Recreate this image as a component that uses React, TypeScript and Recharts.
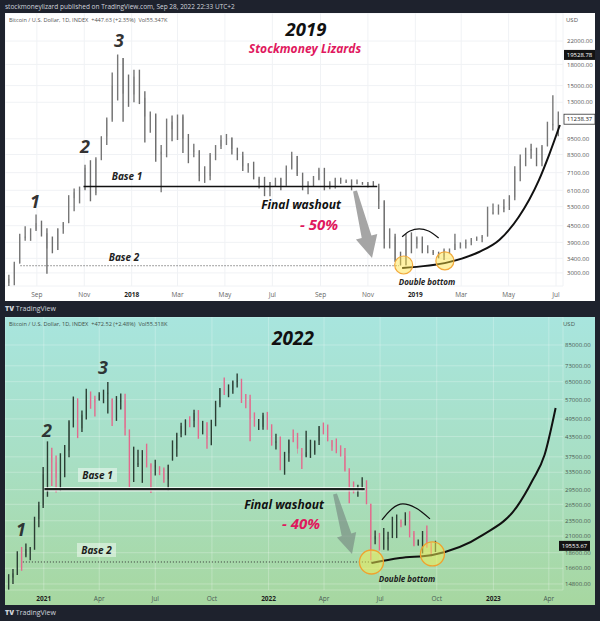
import React from "react";
import { ComposedChart, Bar, Line, XAxis, YAxis, CartesianGrid, ReferenceLine, ReferenceDot } from "recharts";

// ---------- data: 2017-2019 panel (weekly candles) ----------
const topStart = "2017-07-24";
const topFirstOpen = 2750;
const topLow = [
  2650, 2700, 3250, 3950, 3950, 4300, 4100, 2980, 3550, 3650, 4200, 4600, 5100, 5450, 6100, 5550, 5850, 7900, 9000, 11000,
  13200, 11000, 12500, 13000, 12800, 9200, 10000, 7800, 6000, 8100, 9300, 9400, 8400, 7700, 8100, 6600, 6500, 6650, 7900, 8700,
  9000, 8300, 7900, 7200, 7100, 6700, 6200, 5800, 5800, 6300, 6100, 6350, 7300, 6900, 6100, 5900, 6300, 6650, 6100, 6150,
  6200, 6450, 6500, 6100, 6450, 6400, 6250, 6300, 5200, 3700, 3700, 3300, 3200, 3200, 3550, 3700, 3550, 3550, 3500, 3400,
  3350, 3550, 3650, 3700, 3700, 3800, 3950, 3900, 4100, 4950, 4950, 5050, 5150, 5600, 6600, 7500, 8000, 7500, 7500, 8900,
  10200, 9700,
];
const topHigh = [
  2950, 3300, 4200, 4480, 4400, 4950, 4700, 4400, 4100, 4400, 4650, 5850, 6200, 6300, 7600, 7900, 8100, 9700, 11400, 16800,
  19600, 19000, 16500, 17200, 17200, 14300, 12000, 11800, 9000, 11300, 11600, 11700, 11700, 9900, 9100, 8600, 7500, 8400, 9000, 9800,
  9900, 9600, 8800, 8500, 7700, 7800, 6850, 6850, 6550, 6800, 6800, 7550, 8500, 8200, 7100, 6600, 6900, 7400, 7400, 6600,
  6800, 6800, 6700, 6700, 6700, 6550, 6550, 6600, 6450, 5600, 4400, 4200, 3600, 4200, 4250, 4100, 4100, 3800, 3650, 3600,
  3700, 3700, 4200, 3900, 4000, 4050, 4100, 4150, 5300, 5450, 5400, 5650, 5850, 7500, 8300, 8800, 9100, 8800, 9000, 11000,
  13800, 12000,
];
const topClose = [
  2850, 3230, 4080, 4100, 4350, 4600, 4220, 3700, 3650, 4380, 4600, 5700, 6000, 6150, 7400, 5950, 8000, 9700, 11200, 15000,
  19100, 14000, 13900, 16200, 13500, 11500, 11700, 8300, 8500, 11000, 10300, 11500, 9500, 8500, 8600, 6900, 6900, 8300, 8900, 9400,
  9600, 8700, 8200, 7500, 7700, 6750, 6500, 6150, 6550, 6750, 6350, 7400, 8200, 7000, 6300, 6400, 6700, 7300, 6250, 6500,
  6700, 6600, 6600, 6300, 6500, 6450, 6400, 6350, 5550, 4000, 4100, 3300, 3200, 4000, 3850, 4050, 3600, 3600, 3550, 3450,
  3650, 3650, 3850, 3850, 3900, 4000, 4050, 4100, 5050, 5050, 5300, 5200, 5750, 7250, 8000, 8700, 8600, 7900, 8900, 10700,
  10800, 11300,
];
const topXTicks = ["2017-09-01", "2017-11-01", "2018-01-01", "2018-03-01", "2018-05-01", "2018-07-01", "2018-09-01", "2018-11-01", "2019-01-01", "2019-03-01", "2019-05-01", "2019-07-01"];
const topXLabels = ["Sep", "Nov", "2018", "Mar", "May", "Jul", "Sep", "Nov", "2019", "Mar", "May", "Jul"];
const topYTicks = [3000, 3400, 3900, 4500, 5300, 6100, 7100, 8300, 9500, 13000, 15000, 18000, 22000];
const topCurveDates = ["2018-12-15", "2019-02-13", "2019-03-24", "2019-04-19", "2019-05-14", "2019-06-09", "2019-06-22", "2019-07-06"];
const topCurvePrices = [3130, 3290, 3590, 3980, 4850, 6660, 8260, 10690];
const topHumpDates = ["2018-12-15", "2018-12-25", "2019-01-06", "2019-01-18", "2019-01-31"];
const topHumpPrices = [4090, 4300, 4380, 4300, 4050];

// ---------- data: 2020-2022 panel ----------
const botStart = "2020-11-02";
const botFirstOpen = 14300;
const botLow = [
  14200, 14800, 15800, 16300, 18000, 17600, 19000, 22400, 25800, 28000, 30300, 28900, 29200, 32300, 37400, 46500, 43000, 45000, 49300, 53300,
  50400, 56600, 55500, 51500, 47000, 48800, 53000, 43800, 30000, 31200, 34800, 31000, 34700, 28800, 32700, 32800, 31000, 29300, 36500, 37500,
  43300, 43900, 46600, 46600, 42800, 44200, 39800, 40800, 46900, 53900, 59000, 58000, 59500, 62300, 55600, 53500, 42000, 46800, 45600, 45700,
  45700, 40700, 39600, 34000, 32900, 36200, 41700, 39800, 34300, 37400, 37200, 38100, 40900, 44200, 42000, 39200, 38500, 37600, 33700, 26700,
  28700, 28000, 29300, 26500, 17600, 19800, 18900, 19000, 18900, 20700, 20700, 22400, 22700, 20800, 19500, 19600, 18500, 19300, 18100, 18700,
];
const botHigh = [
  15900, 16500, 18800, 19400, 19900, 19400, 24200, 27000, 34800, 42000, 40100, 37900, 38500, 40900, 49000, 58300, 57500, 52600, 61700, 60500,
  58600, 60100, 61300, 64800, 57500, 58500, 59600, 59500, 45800, 40400, 39500, 39400, 41300, 35800, 36700, 35000, 34700, 35400, 42300, 44700,
  48100, 49300, 50500, 52900, 52800, 48800, 48300, 49200, 56500, 62000, 67000, 63700, 65500, 69000, 66400, 59400, 59100, 51900, 49500, 51800,
  52100, 47600, 44400, 43500, 38900, 42600, 45800, 44700, 40000, 45400, 42500, 42300, 47000, 48200, 47500, 42400, 42900, 40800, 40000, 34500,
  31300, 30600, 32300, 31600, 26600, 21900, 21500, 22300, 21700, 24200, 24600, 23700, 25000, 25200, 21800, 20500, 21800, 22700, 20000, 20300,
];
const botClose = [
  15500, 16000, 18400, 18200, 19100, 19200, 23800, 26300, 33000, 38200, 36000, 32200, 34300, 39300, 48600, 57500, 46200, 51000, 59000, 57400,
  55800, 59000, 60000, 60000, 49000, 56600, 56700, 46400, 34700, 35700, 35800, 39100, 35600, 34700, 35300, 34300, 31800, 35400, 39800, 44400,
  47000, 49300, 48800, 51700, 45000, 48300, 42700, 48200, 54900, 61500, 61300, 61300, 65000, 65500, 59700, 57300, 49400, 46700, 46700, 50800,
  46200, 41800, 42000, 36300, 38500, 42400, 42200, 38400, 37700, 38800, 38800, 42200, 46800, 46400, 42200, 40400, 39500, 37700, 34000, 31300,
  29400, 29400, 29900, 26600, 20500, 21000, 19300, 20800, 20800, 22600, 23300, 23200, 24400, 21500, 19600, 19800, 21800, 19400, 18800, 19550,
];
const botXTicks = ["2021-01-01", "2021-04-01", "2021-07-01", "2021-10-01", "2022-01-01", "2022-04-01", "2022-07-01", "2022-10-01", "2023-01-01", "2023-04-01"];
const botXLabels = ["2021", "Apr", "Jul", "Oct", "2022", "Apr", "Jul", "Oct", "2023", "Apr"];
const botYTicks = [14800, 16600, 18600, 21000, 23500, 26500, 29500, 33500, 37500, 43500, 49500, 57000, 65000, 73000, 85000];
const botCurveDates = ["2022-06-17", "2022-08-02", "2022-09-24", "2022-12-15", "2023-02-08", "2023-03-06", "2023-03-25", "2023-04-12"];
const botCurvePrices = [17260, 17900, 18300, 21180, 26000, 31700, 38000, 53600];
const botHumpDates = ["2022-07-04", "2022-07-20", "2022-08-07", "2022-08-28", "2022-09-20"];
const botHumpPrices = [23640, 25620, 26570, 25810, 23820];

// ---------- helpers ----------
const day = (s: string) => Date.UTC(+s.slice(0, 4), +s.slice(5, 7) - 1, +s.slice(8, 10)) / 86400000;

const weeks = (start: string, firstOpen: number, lows: number[], highs: number[], closes: number[]) =>
  lows.map((l, i) => {
    const prev = i ? closes[i - 1] : firstOpen;
    return {
      t: day(start) + 7 * i + 3,
      low: l,
      high: highs[i],
      close: closes[i],
      open: Math.min(highs[i], Math.max(l, prev)),
      range: [l, highs[i]],
    };
  });

const pts = (dates: string[], prices: number[]) => dates.map((d, i) => ({ t: day(d), p: prices[i] }));

const topRows = weeks(topStart, topFirstOpen, topLow, topHigh, topClose);
const botRows = weeks(botStart, botFirstOpen, botLow, botHigh, botClose);

const Candle = (p: any) => {
  const { x, y, width, height, payload, up, down } = p;
  if (!payload || height == null) return null;
  const top = Math.min(y, y + height);
  const h = Math.abs(height);
  const lh = Math.log(payload.high);
  const ll = Math.log(payload.low);
  const py = (v: number) => top + (h * (lh - Math.log(v))) / (lh - ll || 1);
  const o = py(payload.open);
  const c = py(payload.close);
  const col = payload.close >= payload.open ? up : down;
  const cx = x + width / 2;
  return (
    <g>
      <line x1={cx} x2={cx} y1={top} y2={top + h} stroke={col} strokeWidth={1.4} />
      <rect x={x} y={Math.min(o, c)} width={width} height={Math.max(1.5, Math.abs(o - c))} fill={col} />
    </g>
  );
};

const XTick = (p: any) => {
  const { x, payload, ticks, labels, color } = p;
  const lab = labels[ticks.indexOf(payload.value)] ?? "";
  const year = /^\d{4}$/.test(lab);
  return (
    <text x={x} y={284} textAnchor="middle" fontSize={6.5} fontFamily="Open Sans" fontWeight={year ? 700 : 400} fill={year ? "#1e1e1e" : color}>
      {lab}
    </text>
  );
};

const YTick = (p: any) => (
  <text x={p.tx} y={p.y + 2.2} fontSize={6} fontFamily="Open Sans" fill={p.color}>
    {Number(p.payload.value).toFixed(2)}
  </text>
);

const priceTag = (vb: any, text: string, dark: boolean, x0: number) => (
  <g>
    <rect x={x0} y={vb.y - 5} width={31} height={10} fill={dark ? "#131313" : "#fff"} stroke={dark ? "none" : "#333"} strokeWidth={0.8} />
    <text x={x0 + 15.5} y={vb.y + 2.2} textAnchor="middle" fontSize={6} fontFamily="Open Sans" fill={dark ? "#fff" : "#222"}>
      {text}
    </text>
  </g>
);

const arrow = (x1: number, y1: number, x2: number, y2: number, tw: number, sw: number, hw: number, hl: number) => {
  const dx = x2 - x1, dy = y2 - y1, L = Math.hypot(dx, dy);
  const ux = dx / L, uy = dy / L, nx = -uy, ny = ux;
  const bx = x2 - ux * hl, by = y2 - uy * hl;
  const p = [
    [x1 + nx * tw, y1 + ny * tw], [bx + nx * sw, by + ny * sw], [bx + nx * hw, by + ny * hw], [x2, y2],
    [bx - nx * hw, by - ny * hw], [bx - nx * sw, by - ny * sw], [x1 - nx * tw, y1 - ny * tw],
  ];
  return p.map((q) => q.join(",")).join(" ");
};

const ann = { fontFamily: "Open Sans", fontStyle: "italic", fontWeight: 700 } as const;
const abs = { position: "absolute" } as const;

const W = 590;
const H = 288;

export default function App() {
  return (
    <div style={{ ...abs, left: 0, top: 0, width: 600, height: 621, background: "#1e222d", overflow: "hidden", fontFamily: "Open Sans" }}>
      <div style={{ ...abs, left: 5, top: 2, fontSize: 6.5, color: "#d1d4dc", whiteSpace: "nowrap" }}>
        stockmoneylizard published on TradingView.com, Sep 28, 2022 22:33 UTC+2
      </div>

      {/* ---------------- 2019 panel ---------------- */}
      <div style={{ ...abs, left: 5, top: 13, width: W, height: H, background: "#ffffff" }}>
        <ComposedChart width={W} height={H} data={topRows} margin={{ top: 0, right: 0, bottom: 0, left: 0 }}>
          <CartesianGrid stroke="#f0f2f5" />
          <XAxis
            type="number"
            dataKey="t"
            domain={[day("2017-07-22"), day("2019-07-10")]}
            allowDataOverflow
            ticks={topXTicks.map(day)}
            interval={0}
            height={15}
            tickLine={false}
            axisLine={false}
            tick={(p: any) => <XTick {...p} ticks={topXTicks.map(day)} labels={topXLabels} color="#666" />}
          />
          <YAxis
            type="number"
            scale="log"
            domain={[2680, 28000]}
            allowDataOverflow
            ticks={topYTicks}
            interval={0}
            orientation="right"
            width={32}
            tickLine={false}
            axisLine={false}
            tick={(p: any) => <YTick {...p} tx={562} color="#555" />}
          />
          <ReferenceLine segment={[{ x: day("2017-08-11"), y: 3190 }, { x: day("2018-12-11"), y: 3190 }]} stroke="#444" strokeDasharray="1 2" strokeWidth={1} />
          <ReferenceLine segment={[{ x: day("2017-10-31"), y: 6300 }, { x: day("2018-11-13"), y: 6300 }]} stroke="#111" strokeWidth={1.6} />
          <Bar dataKey="range" barSize={4.4} isAnimationActive={false} shape={(p: any) => <Candle {...p} up="#777" down="#6e6e6e" />} />
          <ReferenceDot x={day("2018-12-17")} y={3210} r={9} fill="rgba(255,226,60,0.45)" stroke="#f2a93b" strokeWidth={1.2} />
          <ReferenceDot x={day("2019-02-08")} y={3325} r={9} fill="rgba(255,226,60,0.45)" stroke="#f2a93b" strokeWidth={1.2} />
          <Line data={pts(topCurveDates, topCurvePrices)} dataKey="p" type="monotone" stroke="#111" strokeWidth={2} dot={false} isAnimationActive={false} />
          <Line data={pts(topHumpDates, topHumpPrices)} dataKey="p" type="monotone" stroke="#111" strokeWidth={1.2} dot={false} isAnimationActive={false} />
          <ReferenceLine y={19528.78} stroke="transparent" label={{ content: (p: any) => priceTag(p.viewBox, "19528.78", true, 559) }} />
          <ReferenceLine y={11238.37} stroke="transparent" label={{ content: (p: any) => priceTag(p.viewBox, "11238.37", false, 559) }} />
        </ComposedChart>
        <svg width={W} height={H} style={{ ...abs, left: 0, top: 0, pointerEvents: "none" }}>
          <text x={4} y={9} fontSize={5.6} fill="#555" style={{ whiteSpace: "pre" }}>Bitcoin / U.S. Dollar, 1D, INDEX  +447.63 (+2.35%)  Vol55.347K</text>
          <text x={561} y={9} fontSize={6} fill="#555">USD</text>
          <polygon points={arrow(350, 178, 367, 245, 2, 5, 11, 22)} fill="#a5a5a5" />
          <text x={301} y={23} textAnchor="middle" fontSize={18.5} fill="#111" {...ann}>2019</text>
          <text x={300} y={40} textAnchor="middle" fontSize={12} fill="#e0185e" {...ann}>Stockmoney Lizards</text>
          <text x={30} y={195} textAnchor="middle" fontSize={18} fill="#333" {...ann}>1</text>
          <text x={80} y={140} textAnchor="middle" fontSize={18} fill="#333" {...ann}>2</text>
          <text x={114} y={34} textAnchor="middle" fontSize={18} fill="#333" {...ann}>3</text>
          <text x={122} y={167} textAnchor="middle" fontSize={10} fill="#222" {...ann}>Base 1</text>
          <text x={119} y={248} textAnchor="middle" fontSize={10} fill="#222" {...ann}>Base 2</text>
          <text x={296} y={196} textAnchor="middle" fontSize={12} fill="#111" {...ann}>Final washout</text>
          <text x={314} y={217} textAnchor="middle" fontSize={15} fill="#e0185e" {...ann}>- 50%</text>
          <text x={422} y={272} textAnchor="middle" fontSize={8} fill="#222" {...ann}>Double bottom</text>
        </svg>
      </div>

      <div style={{ ...abs, left: 5, top: 304, fontSize: 7, color: "#d1d4dc", whiteSpace: "nowrap" }}>
        <b style={{ fontWeight: 900 }}>TV</b> TradingView
      </div>

      {/* ---------------- 2022 panel ---------------- */}
      <div style={{ ...abs, left: 5, top: 317, width: W, height: H, background: "linear-gradient(180deg, #a8e5de 0%, #a8dfc4 50%, #a7d7a0 100%)" }}>
        <ComposedChart width={W} height={H} data={botRows} margin={{ top: 0, right: 0, bottom: 0, left: 0 }}>
          <CartesianGrid stroke="rgba(255,255,255,0.25)" />
          <XAxis
            type="number"
            dataKey="t"
            domain={[day("2020-10-30"), day("2023-04-24")]}
            allowDataOverflow
            ticks={botXTicks.map(day)}
            interval={0}
            height={15}
            tickLine={false}
            axisLine={false}
            tick={(p: any) => <XTick {...p} ticks={botXTicks.map(day)} labels={botXLabels} color="#4a5d55" />}
          />
          <YAxis
            type="number"
            scale="log"
            domain={[14160, 104300]}
            allowDataOverflow
            ticks={botYTicks}
            interval={0}
            orientation="right"
            width={32}
            tickLine={false}
            axisLine={false}
            tick={(p: any) => <YTick {...p} tx={560} color="#4b5a52" />}
          />
          <ReferenceLine segment={[{ x: day("2020-11-28"), y: 17380 }, { x: day("2022-06-17"), y: 17380 }]} stroke="#333" strokeDasharray="1 2" strokeWidth={1} />
          <ReferenceLine segment={[{ x: day("2021-01-02"), y: 29600 }, { x: day("2022-06-06"), y: 29600 }]} stroke="rgba(255,255,255,0.75)" strokeWidth={4.5} />
          <ReferenceLine segment={[{ x: day("2021-01-02"), y: 29600 }, { x: day("2022-06-06"), y: 29600 }]} stroke="#1c241f" strokeWidth={2.2} />
          <Bar dataKey="range" barSize={3.4} isAnimationActive={false} shape={(p: any) => <Candle {...p} up="#2c3e34" down="#e3698d" />} />
          <ReferenceDot x={day("2022-06-17")} y={17380} r={12} fill="rgba(246,240,80,0.5)" stroke="#f0a22e" strokeWidth={1.3} />
          <ReferenceDot x={day("2022-09-24")} y={18430} r={12} fill="rgba(246,240,80,0.5)" stroke="#f0a22e" strokeWidth={1.3} />
          <Line data={pts(botCurveDates, botCurvePrices)} dataKey="p" type="monotone" stroke="#111" strokeWidth={2} dot={false} isAnimationActive={false} />
          <Line data={pts(botHumpDates, botHumpPrices)} dataKey="p" type="monotone" stroke="#111" strokeWidth={1.2} dot={false} isAnimationActive={false} />
          <ReferenceLine y={19553.67} stroke="transparent" label={{ content: (p: any) => priceTag(p.viewBox, "19553.67", true, 554) }} />
        </ComposedChart>
        <svg width={W} height={H} style={{ ...abs, left: 0, top: 0, pointerEvents: "none" }}>
          <text x={4} y={9} fontSize={5.6} fill="#3f4f48" style={{ whiteSpace: "pre" }}>Bitcoin / U.S. Dollar, 1D, INDEX  +472.52 (+2.48%)  Vol55.318K</text>
          <text x={558} y={9} fontSize={6} fill="#4b5a52">USD</text>
          <polygon points={arrow(330, 177, 347, 237, 2, 5, 10, 20)} fill="rgba(110,122,120,0.55)" />
          <text x={288} y={28} textAnchor="middle" fontSize={19} fill="#111" {...ann}>2022</text>
          <text x={16} y={219} textAnchor="middle" fontSize={18} fill="#2d3535" {...ann}>1</text>
          <text x={42} y={120} textAnchor="middle" fontSize={18} fill="#2d3535" {...ann}>2</text>
          <text x={98} y={57} textAnchor="middle" fontSize={18} fill="#2d3535" {...ann}>3</text>
          <rect x={73} y={151} width={39} height={14} fill="rgba(255,255,255,0.45)" />
          <text x={92.5} y={162} textAnchor="middle" fontSize={10} fill="#1c1c1c" {...ann}>Base 1</text>
          <rect x={72} y={226} width={39} height={14} fill="rgba(255,255,255,0.45)" />
          <text x={91.5} y={237} textAnchor="middle" fontSize={10} fill="#1c1c1c" {...ann}>Base 2</text>
          <text x={279} y={192} textAnchor="middle" fontSize={12} fill="#111" {...ann}>Final washout</text>
          <text x={296} y={212} textAnchor="middle" fontSize={15} fill="#e0185e" {...ann}>- 40%</text>
          <text x={402} y={265} textAnchor="middle" fontSize={8} fill="#1c1c1c" {...ann}>Double bottom</text>
        </svg>
      </div>

      <div style={{ ...abs, left: 5, top: 608, fontSize: 7, color: "#d1d4dc", whiteSpace: "nowrap" }}>
        <b style={{ fontWeight: 900 }}>TV</b> TradingView
      </div>
    </div>
  );
}
